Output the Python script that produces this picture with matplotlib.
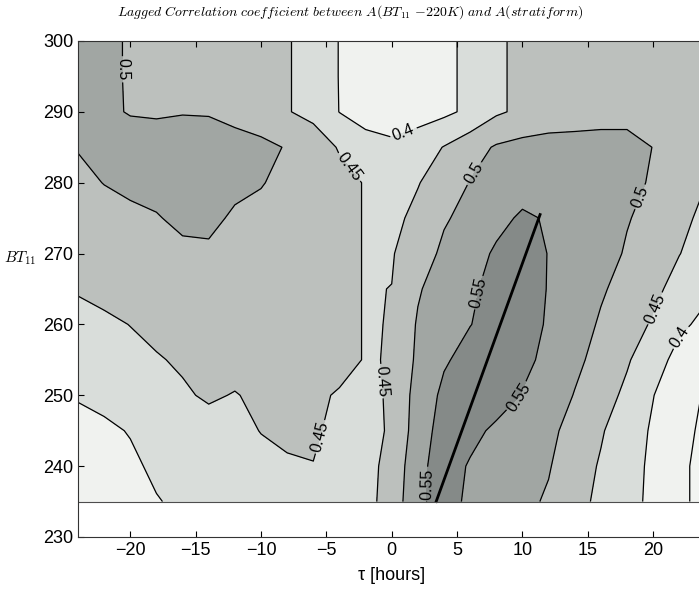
import numpy as np
import matplotlib
matplotlib.use("Agg")
import matplotlib.pyplot as plt

plt.rcParams['font.family'] = ['Liberation Sans', 'DejaVu Sans']
plt.rcParams['mathtext.fontset'] = 'cm'

# lag (hours) and BT11 threshold (K) grid
tau_hours = [-24, -22, -20, -18, -16, -14, -12, -10, -8, -6, -4, -2, 0,
             2, 4, 6, 8, 10, 12, 14, 16, 18, 20, 22, 24]
bt_levels = [235, 240, 245, 250, 255, 260, 265, 270, 275, 280, 285, 290, 295, 300]

# lagged correlation, one row per BT11 threshold
corr_235 = [0.355, 0.365, 0.380, 0.397, 0.410, 0.420, 0.425, 0.430, 0.435, 0.437, 0.435, 0.435, 0.470,
            0.540, 0.570, 0.540, 0.525, 0.510, 0.495, 0.465, 0.440, 0.415, 0.390, 0.360, 0.335]
corr_240 = [0.365, 0.375, 0.390, 0.410, 0.418, 0.425, 0.430, 0.440, 0.447, 0.4495, 0.440, 0.435, 0.465,
            0.535, 0.575, 0.545, 0.530, 0.515, 0.503, 0.475, 0.445, 0.420, 0.390, 0.360, 0.335]
corr_245 = [0.380, 0.390, 0.403, 0.415, 0.425, 0.435, 0.440, 0.451, 0.455, 0.453, 0.444, 0.437, 0.455,
            0.525, 0.570, 0.565, 0.540, 0.530, 0.510, 0.485, 0.455, 0.420, 0.395, 0.365, 0.340]
corr_250 = [0.405, 0.415, 0.425, 0.435, 0.445, 0.455, 0.448, 0.458, 0.460, 0.456, 0.447, 0.440, 0.455,
            0.520, 0.560, 0.575, 0.575, 0.548, 0.525, 0.498, 0.470, 0.440, 0.401, 0.375, 0.345]
corr_255 = [0.415, 0.425, 0.435, 0.447, 0.455, 0.460, 0.465, 0.465, 0.465, 0.462, 0.461, 0.448, 0.4515,
            0.510, 0.545, 0.565, 0.575, 0.560, 0.540, 0.510, 0.485, 0.455, 0.420, 0.385, 0.362]
corr_260 = [0.430, 0.440, 0.451, 0.460, 0.465, 0.470, 0.470, 0.470, 0.465, 0.460, 0.461, 0.448, 0.451,
            0.505, 0.530, 0.549, 0.565, 0.570, 0.545, 0.520, 0.495, 0.470, 0.445, 0.408, 0.390]
corr_265 = [0.455, 0.465, 0.470, 0.475, 0.480, 0.482, 0.480, 0.475, 0.470, 0.465, 0.461, 0.448, 0.4505,
            0.495, 0.525, 0.545, 0.560, 0.570, 0.548, 0.530, 0.505, 0.485, 0.460, 0.435, 0.408]
corr_270 = [0.470, 0.475, 0.480, 0.485, 0.490, 0.493, 0.490, 0.480, 0.475, 0.470, 0.461, 0.448, 0.447,
            0.475, 0.510, 0.535, 0.555, 0.565, 0.549, 0.540, 0.520, 0.495, 0.475, 0.451, 0.432]
corr_275 = [0.480, 0.485, 0.490, 0.497, 0.510, 0.510, 0.494, 0.490, 0.480, 0.470, 0.461, 0.448, 0.440,
            0.460, 0.495, 0.515, 0.540, 0.555, 0.547, 0.535, 0.525, 0.503, 0.485, 0.461, 0.440]
corr_280 = [0.490, 0.501, 0.510, 0.515, 0.520, 0.520, 0.510, 0.502, 0.490, 0.475, 0.461, 0.448, 0.430,
            0.448, 0.470, 0.502, 0.525, 0.535, 0.535, 0.530, 0.520, 0.510, 0.496, 0.474, 0.451]
corr_285 = [0.502, 0.510, 0.515, 0.520, 0.520, 0.520, 0.515, 0.508, 0.498, 0.470, 0.447, 0.420, 0.410,
            0.425, 0.452, 0.480, 0.505, 0.515, 0.520, 0.520, 0.520, 0.520, 0.499, 0.485, 0.475]
corr_290 = [0.510, 0.506, 0.498, 0.495, 0.498, 0.497, 0.488, 0.481, 0.452, 0.440, 0.399, 0.380, 0.375,
            0.380, 0.390, 0.410, 0.443, 0.460, 0.470, 0.475, 0.480, 0.480, 0.480, 0.475, 0.470]
corr_295 = [0.515, 0.507, 0.497, 0.490, 0.485, 0.480, 0.470, 0.460, 0.452, 0.440, 0.398, 0.380, 0.375,
            0.380, 0.390, 0.410, 0.443, 0.460, 0.470, 0.475, 0.480, 0.480, 0.480, 0.475, 0.470]
corr_300 = [0.515, 0.507, 0.497, 0.490, 0.485, 0.480, 0.470, 0.460, 0.452, 0.440, 0.398, 0.380, 0.375,
            0.380, 0.390, 0.410, 0.443, 0.460, 0.470, 0.475, 0.480, 0.480, 0.480, 0.475, 0.470]

corr = np.array([corr_235, corr_240, corr_245, corr_250, corr_255, corr_260, corr_265,
                 corr_270, corr_275, corr_280, corr_285, corr_290, corr_295, corr_300])

# lag of maximum correlation
ridge_tau = [3.4, 11.35]
ridge_bt = [235, 275.5]

fill_levels = [0.30, 0.35, 0.40, 0.45, 0.50, 0.55, 0.60]
line_levels = [0.35, 0.40, 0.45, 0.50, 0.55]
fill_colors = ['#f2f4f1', '#f0f2ef', '#d9ddda', '#bcc0bd', '#a1a6a3', '#858a88']

# where the contour labels sit (tau, BT)
label_pos = [(-20.6, 296), (-3.0, 282.5), (0.8, 287.5), (6.2, 281.4), (19.0, 278),
             (6.6, 264.5), (9.7, 249.8), (-0.7, 252), (-5.2, 244), (19.8, 262.5),
             (21.7, 258.5), (2.5, 237.5)]

fig = plt.figure(figsize=(6.99, 5.91), dpi=100)
ax = fig.add_axes([0.1116, 0.0914, 0.8976, 0.8393])

ax.contourf(tau_hours, bt_levels, corr, levels=fill_levels, colors=fill_colors)
cs = ax.contour(tau_hours, bt_levels, corr, levels=line_levels, colors='k', linewidths=0.9)
ax.clabel(cs, fmt='%g', fontsize=11.5, manual=label_pos, inline=True, inline_spacing=3)
ax.plot(ridge_tau, ridge_bt, color='k', lw=2)
ax.axhline(235, color='0.3', lw=0.8)

ax.set_xlim(-24, 24)
ax.set_ylim(230, 300)
ax.set_xticks([-20, -15, -10, -5, 0, 5, 10, 15, 20])
ax.set_yticks([230, 240, 250, 260, 270, 280, 290, 300])
ax.tick_params(direction='in', length=4, width=0.8, top=True, right=True, labelsize=13)
for sp in ax.spines.values():
    sp.set_linewidth(0.8)
    sp.set_color('0.2')
ax.set_xlabel('τ [hours]', fontsize=13, labelpad=6)

fig.text(0.5007, 1 - 12 / 591,
         r'$Lagged\ Correlation\ coefficient\ between\ A(BT_{11}\ {-}220K)\ and\ A(stratiform)$',
         ha='center', va='center', fontsize=10)
fig.text(4 / 699, 1 - 258 / 591, r'$BT_{11}$', ha='left', va='center', fontsize=11)

fig.savefig('out.png', dpi=100)
